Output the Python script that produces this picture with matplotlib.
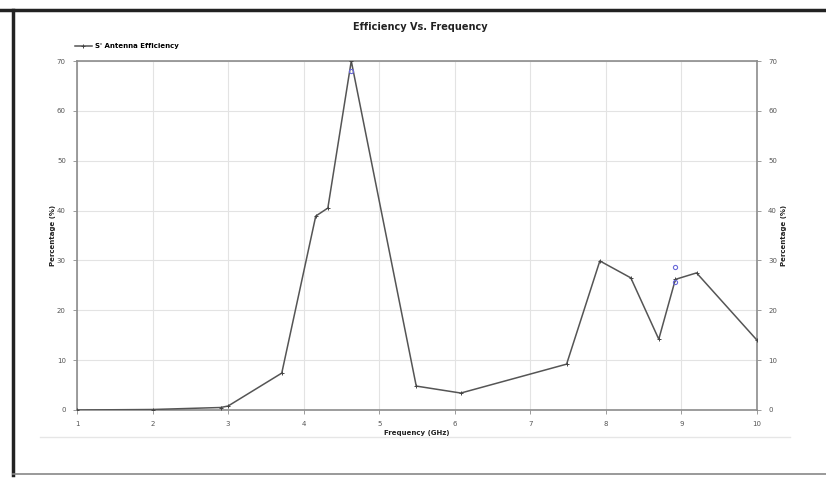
import matplotlib
matplotlib.use("Agg")
import matplotlib.pyplot as plt
from matplotlib.lines import Line2D

# Data
freq = [1.0, 2.0, 2.9, 3.0, 3.71, 4.16, 4.32, 4.63, 5.49, 6.08, 7.48, 7.92, 8.33, 8.70, 8.92, 9.20, 10.0]
eff = [0.0, 0.1, 0.5, 0.8, 7.4, 38.9, 40.5, 70.0, 4.8, 3.4, 9.2, 29.9, 26.5, 14.2, 26.2, 27.5, 14.0]
marker_freq = [4.63, 8.92, 8.92]
marker_eff = [68.0, 28.7, 25.6]
x_ticks = [1, 2, 3, 4, 5, 6, 7, 8, 9, 10]
y_ticks = [0, 10, 20, 30, 40, 50, 60, 70]

W, H = 826, 478
fig = plt.figure(figsize=(W / 100, H / 100), dpi=100)
fig.patch.set_facecolor("white")

# outer frame decorations
fig.add_artist(Line2D([0, 1], [1 - 10 / H, 1 - 10 / H], color="#222222", lw=2.5, transform=fig.transFigure))
fig.add_artist(Line2D([13 / W, 13 / W], [1 - 10 / H, 1 - 475 / H], color="#222222", lw=2.5, transform=fig.transFigure))
fig.add_artist(Line2D([13 / W, 1], [1 - 474 / H, 1 - 474 / H], color="#888888", lw=1.2, transform=fig.transFigure))
fig.add_artist(Line2D([40 / W, 790 / W], [1 - 437 / H, 1 - 437 / H], color="#e6e6e6", lw=1.0, transform=fig.transFigure))

ax = fig.add_axes([77 / W, 1 - 410 / H, (757 - 77) / W, (410 - 61) / H])
ax.plot(freq, eff, color="#555555", lw=1.1, marker="+", ms=3, mew=0.7, mec="#444444",
        label="S' Antenna Efficiency", zorder=3)
ax.plot(marker_freq, marker_eff, ls="none", marker="o", ms=3, mfc="none", mec="#6a6ad8", mew=0.8, zorder=4)

ax.set_xlim(1, 10)
ax.set_ylim(0, 70)
ax.set_xticks(x_ticks)
ax.set_yticks(y_ticks)
ax.grid(True, color="#e3e3e3", lw=0.8)
ax.set_axisbelow(True)
for s in ax.spines.values():
    s.set_color("#8c8c8c")
    s.set_linewidth(1.2)
ax.tick_params(axis="both", labelsize=5, colors="#8c8c8c", labelcolor="#555555", length=3, width=0.6, pad=5)
ax.tick_params(axis="y", which="both", right=True, labelright=True)

ax.set_xlabel("Frequency (GHz)", fontsize=5, color="#222222", fontweight="bold", labelpad=2)
ax.set_ylabel("Percentage (%)", fontsize=5, color="#222222", fontweight="bold", labelpad=1)
ax2 = ax.secondary_yaxis("right")
ax2.set_yticks([])
ax2.spines["right"].set_visible(False)
ax2.set_ylabel("Percentage (%)", fontsize=5, color="#222222", fontweight="bold", labelpad=17)

fig.text(420 / W, 1 - 27 / H, "Efficiency Vs. Frequency", ha="center", va="center",
         fontsize=7, fontweight="bold", color="#222222")

leg = ax.legend(loc="lower left", bbox_to_anchor=(-0.01, 1.02), frameon=False, fontsize=5,
                handlelength=2.4, handletextpad=0.4, borderaxespad=0.3,
                prop={"size": 5, "weight": "bold"})

fig.savefig("out.png", dpi=100)
